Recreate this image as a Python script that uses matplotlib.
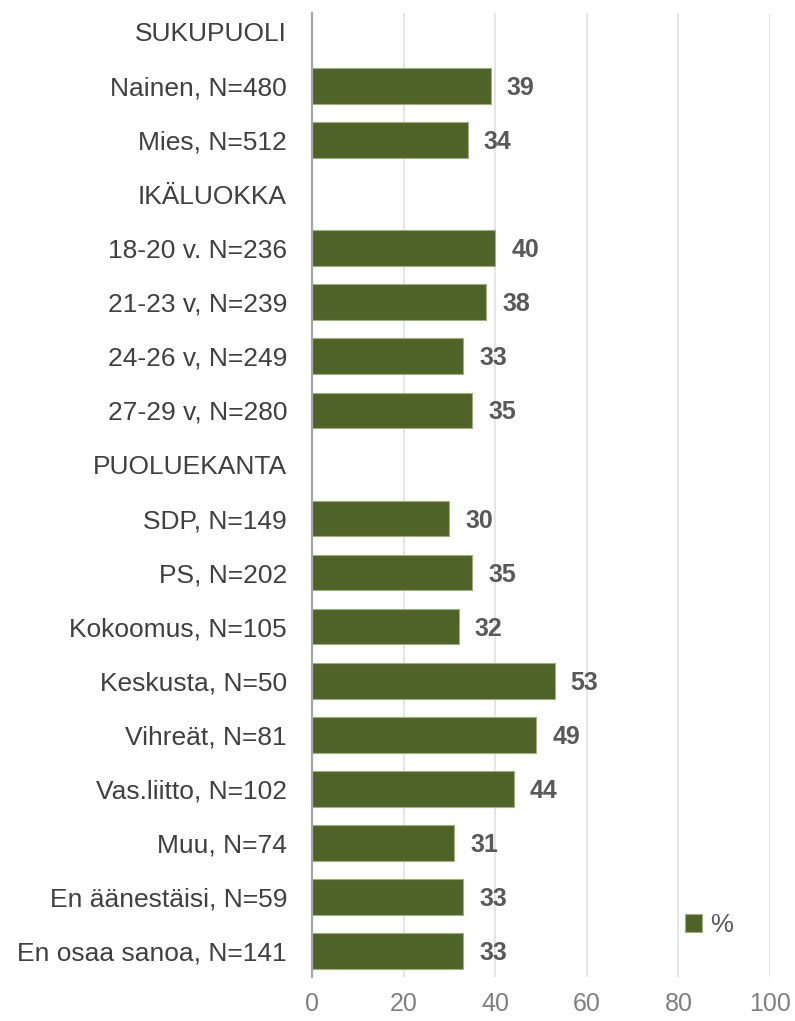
import matplotlib
matplotlib.use("Agg")
import matplotlib.pyplot as plt
import numpy as np

categories = ["SUKUPUOLI", "Nainen, N=480", "Mies, N=512", "IKÄLUOKKA",
              "18-20 v. N=236", "21-23 v, N=239", "24-26 v, N=249", "27-29 v, N=280",
              "PUOLUEKANTA", "SDP, N=149", "PS, N=202", "Kokoomus, N=105",
              "Keskusta, N=50", "Vihreät, N=81", "Vas.liitto, N=102", "Muu, N=74",
              "En äänestäisi, N=59", "En osaa sanoa, N=141"]
values = [None, 39, 34, None, 40, 38, 33, 35, None, 30, 35, 32, 53, 49, 44, 31, 33, 33]
xticks = [0, 20, 40, 60, 80, 100]
series_name = "%"

plt.rcParams['font.family'] = ['Liberation Sans', 'DejaVu Sans']

fig = plt.figure(figsize=(7.95, 10.21), dpi=100)
ax = fig.add_axes([0.3925, 0.0431, 0.9686 - 0.3925, 0.9873 - 0.0431])

bar_color = "#4F6228"
y = np.arange(len(categories))
for i, v in enumerate(values):
    if v is None:
        continue
    ax.barh(i, v, height=0.66, color=bar_color, edgecolor="#9BB07A", linewidth=0.8, zorder=3,
            label=series_name if i == 1 else None)
    ax.annotate(f"{v:.0f}", xy=(v, i), xytext=(11.5, -1.5), textcoords="offset points",
                ha="left", va="center", fontsize=18, fontweight="bold", color="#595959")

ax.set_xlim(0, 100)
ax.set_ylim(17.48, -0.35)
ax.set_yticks(y)
ax.set_yticklabels(categories, fontsize=19, color="#404040")
ax.set_xticks(xticks)
ax.set_xticklabels([str(t) for t in xticks], fontsize=18, color="#808080")
ax.tick_params(axis="both", length=0)
ax.tick_params(axis="y", pad=18)
ax.tick_params(axis="x", pad=11)

ax.grid(axis="x", color="#E3E3E3", linewidth=1.3, zorder=0)
for s in ["top", "right", "bottom"]:
    ax.spines[s].set_visible(False)
ax.spines["left"].set_color("#A6A6A6")
ax.spines["left"].set_linewidth(1.6)
ax.spines["left"].set_zorder(4)

ax.legend(loc="center left", bbox_to_anchor=(0.814, 0.054), frameon=False,
          fontsize=18.5, handlelength=0.68, handleheight=0.68, handletextpad=0.32,
          borderpad=0, borderaxespad=0, labelcolor="#595959")

fig.savefig("out.png", dpi=100)
